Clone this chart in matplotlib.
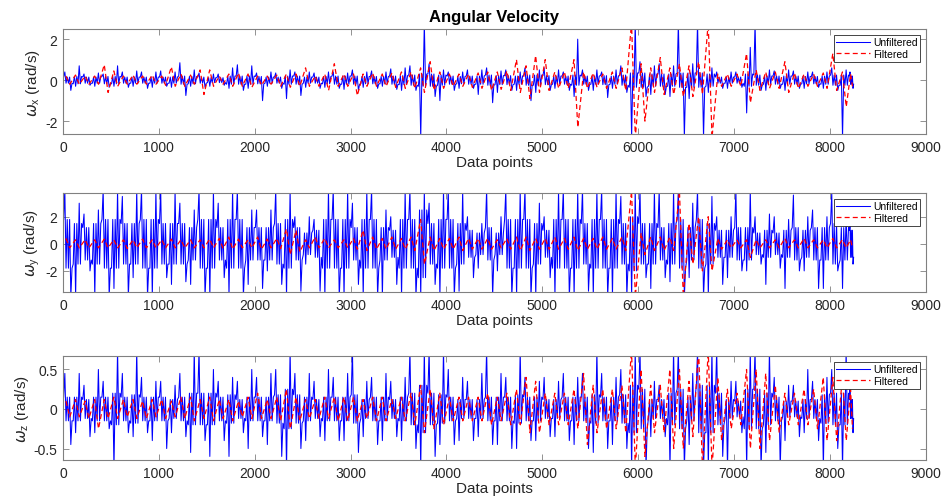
import matplotlib

matplotlib.use("Agg")
import matplotlib.pyplot as plt

plt.rcParams["font.family"] = ["Liberation Sans", "DejaVu Sans"]
plt.rcParams["mathtext.fontset"] = "dejavusans"

N_SAMPLES = 8250
BLOCK = 100  # samples per envelope block

# --- omega_x: per-block extremes / band half-width (rad/s) ---
UX_HI = [0.4, 0.7, 0.3, 0.35, 0.3, 0.7, 0.4, 0.45, 0.4, 0.4,
         0.45, 0.4, 0.85, 0.5, 0.35, 0.3, 0.3, 0.6, 0.75, 0.7,
         0.35, 0.4, 0.35, 0.5, 0.4, 0.4, 0.35, 0.4, 0.4, 0.35,
         0.5, 0.4, 0.45, 0.4, 0.55, 0.6, 0.7, 2.8, 0.8, 0.5,
         0.4, 0.4, 0.5, 0.5, 0.6, 0.45, 0.5, 0.4, 0.6, 0.5,
         0.6, 0.5, 0.4, 2.0, 0.5, 0.5, 0.4, 0.5, 0.7, 2.8,
         0.9, 0.7, 0.8, 0.7, 2.8, 0.8, 2.8, 0.6, 0.4, 0.4,
         0.4, 1.6, 2.8, 0.5, 0.45, 0.5, 0.45, 0.4, 0.4, 0.4,
         0.6, 0.5, 0.4]
UX_LO = [-0.5, -0.3, -0.25, -0.3, -0.35, -0.3, -0.35, -0.3, -0.4, -0.35,
         -0.3, -0.35, -0.75, -0.3, -0.35, -0.3, -0.25, -0.4, -0.5, -0.4,
         -1.0, -0.3, -0.4, -0.9, -0.75, -0.35, -0.4, -0.35, -0.4, -0.45,
         -0.5, -0.35, -0.4, -0.3, -0.45, -0.5, -0.5, -2.8, -0.8, -1.0,
         -0.5, -0.4, -0.4, -0.7, -1.1, -0.6, -0.5, -0.5, -1.0, -0.6,
         -0.5, -0.4, -0.5, -0.8, -0.5, -0.5, -0.85, -0.4, -0.6, -2.8,
         -0.8, -0.7, -0.7, -0.8, -2.8, -0.9, -2.8, -0.6, -0.4, -0.4,
         -0.35, -1.6, -0.5, -0.5, -0.4, -0.5, -0.4, -0.4, -0.35, -0.4,
         -0.5, -2.8, -0.4]
UX_TYP = [0.15, 0.18, 0.15, 0.15, 0.18, 0.18, 0.15, 0.15, 0.15, 0.15,
          0.15, 0.15, 0.2, 0.18, 0.15, 0.12, 0.12, 0.2, 0.2, 0.2,
          0.18, 0.15, 0.15, 0.2, 0.2, 0.15, 0.15, 0.18, 0.2, 0.2,
          0.2, 0.18, 0.18, 0.18, 0.2, 0.22, 0.25, 0.3, 0.3, 0.25,
          0.2, 0.18, 0.2, 0.2, 0.25, 0.22, 0.22, 0.2, 0.25, 0.25,
          0.22, 0.2, 0.2, 0.25, 0.2, 0.2, 0.22, 0.2, 0.25, 0.35,
          0.35, 0.3, 0.3, 0.3, 0.35, 0.35, 0.35, 0.3, 0.15, 0.15,
          0.15, 0.3, 0.25, 0.2, 0.2, 0.2, 0.2, 0.18, 0.18, 0.2,
          0.25, 0.25, 0.2]
FX_HI = [0.2, 0.25, 0.2, 0.2, 0.75, 0.45, 0.2, 0.25, 0.2, 0.25,
         0.2, 0.65, 0.3, 0.25, 0.5, 0.5, 0.2, 0.3, 0.35, 0.3,
         0.2, 0.2, 0.25, 0.3, 0.3, 0.6, 0.2, 0.3, 0.8, 0.3,
         0.3, 0.3, 0.35, 0.3, 0.35, 0.4, 0.4, 0.6, 0.9, 0.4,
         0.3, 0.3, 0.3, 0.35, 0.4, 0.4, 0.45, 1.0, 0.7, 1.2,
         1.0, 0.4, 0.4, 1.0, 0.4, 0.35, 0.3, 0.4, 0.6, 2.8,
         0.8, 0.6, 1.1, 0.6, 0.8, 0.7, 0.9, 2.8, 0.3, 0.3,
         0.3, 1.3, 0.5, 0.4, 0.4, 0.9, 0.35, 0.3, 0.3, 0.35,
         1.3, 0.4, 0.3]
FX_LO = [-0.2, -0.2, -0.2, -0.2, -0.6, -0.3, -0.2, -0.2, -0.2, -0.2,
         -0.25, -0.3, -0.3, -0.2, -0.7, -0.3, -0.2, -0.3, -0.3, -0.35,
         -0.25, -0.2, -0.3, -0.35, -0.3, -0.3, -0.3, -0.5, -0.3, -0.3,
         -0.75, -0.3, -0.3, -0.3, -0.35, -0.4, -0.4, -0.6, -0.5, -0.4,
         -0.3, -0.3, -0.35, -0.4, -0.5, -0.45, -0.5, -0.6, -0.9, -0.6,
         -0.5, -0.4, -0.4, -2.3, -0.4, -0.35, -0.4, -0.4, -0.5, -2.8,
         -2.0, -0.6, -0.7, -0.7, -0.8, -0.8, -0.7, -2.8, -0.3, -0.3,
         -0.3, -1.1, -0.5, -0.4, -0.4, -0.6, -0.4, -0.3, -0.3, -0.4,
         -0.5, -1.3, -0.3]

# --- omega_y ---
UY_HI = [4.0, 3.0, 2.2, 2.5, 4.0, 4.0, 3.5, 4.0, 4.0, 4.0,
         4.0, 4.0, 3.0, 2.5, 4.0, 4.0, 3.0, 4.0, 4.0, 2.5,
         2.5, 2.5, 4.0, 4.0, 2.0, 2.0, 1.8, 4.0, 4.0, 4.0,
         3.0, 4.0, 4.0, 2.5, 2.0, 4.0, 4.0, 4.0, 3.0, 4.0,
         4.0, 4.0, 2.0, 1.5, 4.0, 2.0, 4.0, 4.0, 4.0, 3.0,
         2.0, 4.0, 4.0, 4.0, 4.0, 4.0, 4.0, 4.0, 3.5, 4.0,
         4.0, 4.0, 4.0, 4.0, 4.0, 3.0, 4.0, 3.5, 2.0, 2.0,
         4.0, 4.0, 2.0, 2.2, 2.0, 1.8, 3.6, 2.0, 2.5, 2.0,
         3.8, 2.0, 1.5]
UY_LO = [-3.9, -3.9, -2.0, -3.9, -3.9, -3.3, -3.9, -2.5, -3.9, -3.9,
         -2.5, -3.0, -2.8, -3.0, -3.9, -3.9, -2.5, -3.9, -3.9, -3.0,
         -3.3, -2.0, -3.0, -3.9, -3.5, -1.5, -3.5, -3.9, -3.9, -3.9,
         -3.0, -3.9, -3.9, -3.9, -3.0, -3.9, -3.9, -3.9, -3.0, -3.9,
         -3.9, -3.5, -2.5, -1.8, -3.9, -2.0, -3.9, -3.9, -3.9, -3.9,
         -2.5, -3.9, -3.9, -3.9, -3.5, -3.9, -3.9, -3.9, -3.9, -3.9,
         -2.5, -3.3, -2.5, -2.8, -3.9, -2.5, -3.9, -3.9, -3.0, -2.5,
         -2.0, -2.0, -1.5, -3.0, -1.8, -3.3, -2.0, -2.0, -3.3, -3.3,
         -2.0, -3.3, -1.5]
UY_TYP = [1.8, 1.5, 1.2, 1.5, 1.8, 1.8, 1.5, 1.5, 1.8, 1.8,
          1.5, 1.5, 1.5, 1.2, 1.8, 1.8, 1.2, 1.8, 1.8, 1.2,
          1.2, 1.2, 1.5, 1.8, 1.2, 0.8, 1.0, 1.8, 1.8, 1.8,
          1.2, 1.8, 1.8, 1.2, 1.0, 1.8, 1.8, 2.5, 1.5, 1.8,
          1.8, 1.5, 1.0, 0.8, 1.2, 0.8, 1.8, 1.8, 1.8, 1.5,
          1.0, 1.8, 1.8, 1.8, 1.5, 1.8, 1.8, 1.8, 1.5, 2.0,
          1.5, 1.5, 1.2, 1.5, 1.8, 1.2, 1.8, 1.5, 1.0, 1.0,
          1.2, 1.2, 0.8, 1.0, 0.8, 1.0, 1.2, 1.0, 1.2, 1.2,
          1.5, 1.2, 1.0]
FY_HI = [0.4, 0.3, 0.3, 0.3, 0.35, 0.3, 0.3, 0.3, 0.35, 0.3,
         0.3, 0.35, 0.3, 0.3, 0.3, 0.35, 0.4, 0.5, 0.35, 0.3,
         0.5, 0.35, 0.4, 1.1, 1.0, 0.3, 0.5, 0.4, 0.3, 0.3,
         0.4, 1.0, 0.5, 0.4, 0.5, 0.4, 0.5, 1.8, 0.5, 0.4,
         0.4, 0.5, 0.4, 0.4, 0.4, 0.3, 0.4, 0.5, 0.5, 0.4,
         0.4, 0.5, 0.4, 0.5, 0.4, 0.4, 0.5, 0.4, 0.5, 3.9,
         0.8, 0.5, 0.5, 0.5, 3.9, 1.5, 2.0, 2.0, 0.4, 0.3,
         0.3, 0.3, 0.3, 0.3, 0.3, 0.4, 0.3, 0.4, 0.3, 0.3,
         0.4, 0.3, 0.3]
FY_LO = [-0.3, -0.3, -0.3, -0.3, -0.3, -0.3, -0.35, -0.3, -0.3, -0.3,
         -0.3, -0.3, -0.3, -0.3, -0.3, -0.3, -0.35, -0.4, -0.3, -0.3,
         -0.4, -0.3, -0.35, -0.8, -0.6, -0.3, -0.3, -0.3, -0.3, -0.3,
         -0.4, -0.5, -0.4, -0.4, -0.4, -0.4, -0.5, -1.5, -0.5, -0.4,
         -0.4, -0.5, -0.4, -0.4, -0.4, -0.3, -0.4, -0.5, -0.5, -0.4,
         -0.4, -0.4, -0.4, -0.5, -0.4, -0.4, -0.4, -0.4, -0.5, -3.9,
         -0.8, -0.5, -0.5, -0.5, -3.9, -1.5, -2.0, -2.0, -0.4, -0.3,
         -0.3, -1.0, -0.3, -0.3, -0.3, -0.3, -0.3, -0.3, -0.3, -0.3,
         -0.3, -0.3, -0.3]

# --- omega_z ---
UZ_HI = [0.45, 0.45, 0.3, 0.5, 0.35, 0.75, 0.45, 0.75, 0.4, 0.35,
         0.35, 0.3, 0.45, 0.75, 0.75, 0.5, 0.35, 0.4, 0.35, 0.5,
         0.4, 0.45, 0.5, 0.75, 0.45, 0.45, 0.35, 0.5, 0.4, 0.45,
         0.75, 0.35, 0.4, 0.45, 0.35, 0.4, 0.75, 0.75, 0.75, 0.75,
         0.5, 0.4, 0.35, 0.45, 0.75, 0.45, 0.4, 0.75, 0.4, 0.35,
         0.4, 0.35, 0.45, 0.4, 0.45, 0.75, 0.45, 0.4, 0.5, 0.75,
         0.75, 0.35, 0.3, 0.75, 0.75, 0.45, 0.75, 0.75, 0.75, 0.35,
         0.35, 0.75, 0.75, 0.75, 0.4, 0.3, 0.3, 0.5, 0.35, 0.4,
         0.5, 0.75, 0.3]
UZ_LO = [-0.45, -0.3, -0.35, -0.3, -0.25, -0.75, -0.3, -0.35, -0.3, -0.4,
         -0.5, -0.3, -0.35, -0.55, -0.4, -0.6, -0.4, -0.6, -0.3, -0.5,
         -0.35, -0.45, -0.6, -0.75, -0.5, -0.4, -0.35, -0.4, -0.4, -0.4,
         -0.55, -0.35, -0.45, -0.4, -0.35, -0.4, -0.5, -0.75, -0.6, -0.45,
         -0.45, -0.4, -0.4, -0.35, -0.45, -0.45, -0.5, -0.5, -0.4, -0.4,
         -0.35, -0.35, -0.4, -0.45, -0.5, -0.55, -0.5, -0.45, -0.5, -0.75,
         -0.75, -0.35, -0.35, -0.75, -0.75, -0.45, -0.75, -0.75, -0.6, -0.75,
         -0.3, -0.75, -0.75, -0.55, -0.75, -0.4, -0.35, -0.3, -0.4, -0.75,
         -0.5, -0.75, -0.3]
UZ_TYP = [0.15, 0.15, 0.12, 0.15, 0.15, 0.2, 0.15, 0.18, 0.15, 0.15,
          0.15, 0.12, 0.15, 0.2, 0.2, 0.2, 0.15, 0.18, 0.12, 0.15,
          0.15, 0.15, 0.18, 0.25, 0.18, 0.15, 0.12, 0.15, 0.15, 0.15,
          0.18, 0.12, 0.15, 0.15, 0.12, 0.15, 0.2, 0.3, 0.2, 0.18,
          0.15, 0.12, 0.12, 0.12, 0.15, 0.15, 0.15, 0.18, 0.15, 0.15,
          0.12, 0.12, 0.15, 0.15, 0.15, 0.18, 0.15, 0.15, 0.18, 0.3,
          0.25, 0.12, 0.12, 0.2, 0.25, 0.15, 0.3, 0.3, 0.2, 0.12,
          0.1, 0.25, 0.25, 0.2, 0.15, 0.1, 0.1, 0.12, 0.12, 0.18,
          0.2, 0.2, 0.12]
FZ_HI = [0.1, 0.12, 0.1, 0.12, 0.12, 0.15, 0.12, 0.12, 0.1, 0.12,
         0.12, 0.1, 0.15, 0.15, 0.12, 0.15, 0.12, 0.12, 0.1, 0.15,
         0.2, 0.12, 0.15, 0.25, 0.15, 0.12, 0.12, 0.15, 0.15, 0.15,
         0.15, 0.12, 0.15, 0.15, 0.12, 0.15, 0.2, 0.3, 0.25, 0.2,
         0.15, 0.15, 0.15, 0.15, 0.2, 0.15, 0.2, 0.25, 0.4, 0.35,
         0.2, 0.2, 0.2, 0.25, 0.45, 0.3, 0.25, 0.25, 0.3, 0.75,
         0.5, 0.3, 0.3, 0.5, 0.5, 0.35, 0.75, 0.75, 0.4, 0.25,
         0.2, 0.5, 0.5, 0.45, 0.3, 0.2, 0.2, 0.25, 0.25, 0.4,
         0.4, 0.4, 0.25]
FZ_LO = [-0.1, -0.1, -0.12, -0.25, -0.12, -0.12, -0.1, -0.12, -0.12, -0.1,
         -0.12, -0.1, -0.12, -0.15, -0.12, -0.15, -0.12, -0.15, -0.1, -0.12,
         -0.12, -0.12, -0.15, -0.25, -0.15, -0.12, -0.12, -0.12, -0.15, -0.15,
         -0.15, -0.12, -0.15, -0.15, -0.12, -0.15, -0.2, -0.3, -0.25, -0.2,
         -0.15, -0.15, -0.15, -0.15, -0.2, -0.15, -0.2, -0.2, -0.3, -0.3,
         -0.2, -0.2, -0.2, -0.25, -0.45, -0.3, -0.25, -0.25, -0.3, -0.75,
         -0.6, -0.3, -0.3, -0.5, -0.5, -0.35, -0.75, -0.75, -0.4, -0.25,
         -0.2, -0.5, -0.5, -0.4, -0.3, -0.2, -0.2, -0.2, -0.25, -0.4,
         -0.4, -0.4, -0.25]

PANELS = [
    (r"$\omega_{\mathregular{x}}$ (rad/s)", UX_HI, UX_LO, UX_TYP, FX_HI, FX_LO,
     (-2.63, 2.49), [-2, 0, 2], ["-2", "0", "2"]),
    (r"$\omega_{\mathregular{y}}$ (rad/s)", UY_HI, UY_LO, UY_TYP, FY_HI, FY_LO,
     (-3.56, 3.75), [-2, 0, 2], ["-2", "0", "2"]),
    (r"$\omega_{\mathregular{z}}$ (rad/s)", UZ_HI, UZ_LO, UZ_TYP, FZ_HI, FZ_LO,
     (-0.645, 0.67), [-0.5, 0, 0.5], ["-0.5", "0", "0.5"]),
]

# axes boxes in figure fraction: left, bottom, width, height
AX_RECTS = [
    (0.0667, 0.731, 0.913, 0.209),
    (0.0667, 0.4163, 0.913, 0.1972),
    (0.0667, 0.0817, 0.913, 0.2071),
]

TEXT_COLOR = "#262626"

# order of points inside one block: "h"/"l" are the block extremes,
# +1/-1 are the edges of the dense band
EVEN_PATTERN = [1, "h", -1, 1, -1, 1, "l", -1]
ODD_PATTERN = [-1, 1, "l", 1, -1, "h", -1, 1]


def block_span(k):
    base = k * BLOCK
    return base, min(BLOCK, N_SAMPLES - base)


def unfiltered_trace(hi, lo, typ):
    xs, ys = [], []
    for k, (h, l, t) in enumerate(zip(hi, lo, typ)):
        base, w = block_span(k)
        pattern = EVEN_PATTERN if k % 2 == 0 else ODD_PATTERN
        n = len(pattern)
        xs += [base + (i + 0.5) * w / n for i in range(n)]
        ys += [h if p == "h" else l if p == "l" else p * t for p in pattern]
    return xs, ys


def filtered_trace(hi, lo):
    xs, ys = [], []
    for k, (h, l) in enumerate(zip(hi, lo)):
        base, w = block_span(k)
        xs += [base + 0.3 * w, base + 0.7 * w]
        ys += [h, l]
    return xs, ys


fig = plt.figure(figsize=(9.45, 5.02), dpi=100)

for rect, (ylab, u_hi, u_lo, u_typ, f_hi, f_lo, ylim, yt, ytl) in zip(AX_RECTS, PANELS):
    ax = fig.add_axes(rect)
    ux, uy = unfiltered_trace(u_hi, u_lo, u_typ)
    fx, fy = filtered_trace(f_hi, f_lo)
    ax.plot(ux, uy, color="#0000FF", lw=0.75, label="Unfiltered")
    ax.plot(fx, fy, color="#FF0000", lw=0.9, ls=(0, (4, 2.5)), label="Filtered")
    ax.set_xlim(0, 9000)
    ax.set_ylim(*ylim)
    ax.set_xticks(range(0, 9001, 1000))
    ax.set_yticks(yt)
    ax.set_yticklabels(ytl)
    ax.tick_params(direction="in", top=True, right=True, length=4, width=0.6,
                   labelsize=10, colors="#808080", labelcolor=TEXT_COLOR, pad=4)
    for sp in ax.spines.values():
        sp.set_color("#808080")
        sp.set_linewidth(0.8)
    ax.set_xlabel("Data points", fontsize=11, color=TEXT_COLOR, labelpad=1)
    ax.set_ylabel(ylab, fontsize=11, color=TEXT_COLOR, labelpad=2)
    leg = ax.legend(loc="upper right", fontsize=7.5, handlelength=3.2,
                    handletextpad=0.3, labelspacing=0.15, borderpad=0.25,
                    borderaxespad=0.55, fancybox=False, framealpha=1)
    leg.set_zorder(10)
    leg.get_frame().set_edgecolor("#262626")
    leg.get_frame().set_linewidth(0.6)

fig.text(0.523, 0.965, "Angular Velocity", ha="center", va="center",
         fontsize=12, fontweight="bold", color="black")

fig.savefig("out.png", dpi=100)
